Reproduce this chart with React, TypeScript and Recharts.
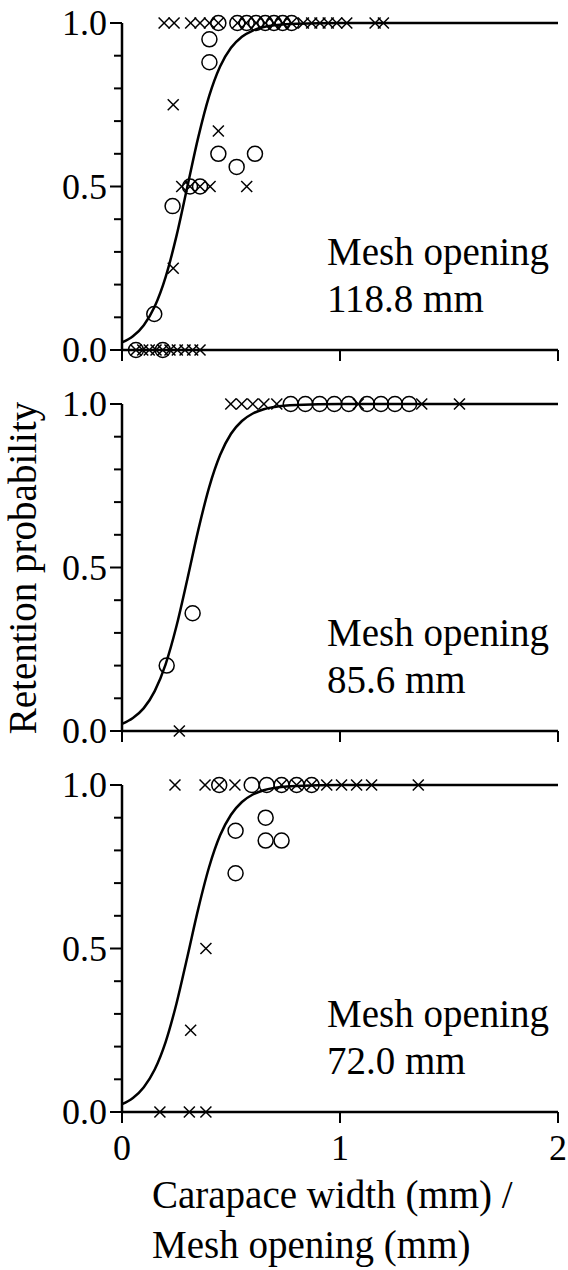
import { ComposedChart, Line, Scatter, XAxis, YAxis } from "recharts"

const FONT = '"Liberation Serif", "Times New Roman", serif'

// x: carapace width / mesh opening, y: retention probability
const xTicks = [0, 1, 2]
const yTicks = [0, 0.1, 0.2, 0.3, 0.4, 0.5, 0.6, 0.7, 0.8, 0.9, 1]

// fitted curves
const curveX = [0, 0.05, 0.1, 0.15, 0.2, 0.25, 0.3, 0.35, 0.4, 0.45, 0.5, 0.55, 0.6, 0.65, 0.7, 0.8, 1, 2]
const curve118 = [0.023, 0.042, 0.076, 0.133, 0.223, 0.349, 0.5, 0.651, 0.777, 0.867, 0.924, 0.958, 0.977, 0.988, 0.993, 0.998, 1, 1]
const curve85 = [0.022, 0.04, 0.07, 0.122, 0.204, 0.321, 0.465, 0.615, 0.746, 0.844, 0.909, 0.948, 0.971, 0.984, 0.991, 0.997, 1, 1]
const curve72 = [0.024, 0.043, 0.076, 0.13, 0.214, 0.332, 0.475, 0.622, 0.75, 0.846, 0.909, 0.948, 0.971, 0.984, 0.991, 0.997, 1, 1]

// 118.8 mm
const circ118X = [0.442, 0.529, 0.572, 0.615, 0.657, 0.697, 0.737, 0.778, 0.401, 0.401, 0.442, 0.526, 0.61, 0.312, 0.358, 0.232, 0.148, 0.064, 0.187]
const circ118Y = [1, 1, 1, 1, 1, 1, 1, 1, 0.95, 0.88, 0.6, 0.56, 0.6, 0.5, 0.5, 0.44, 0.11, 0, 0]
const cross118X = [
  0.193, 0.239, 0.315, 0.358, 0.401, 0.442, 0.53, 0.57, 0.615, 0.657, 0.697, 0.737, 0.778, 0.832, 0.87, 0.908, 0.946,
  0.985, 1.031, 1.161, 1.199, 0.235, 0.442, 0.572, 0.274, 0.312, 0.358, 0.404, 0.235, 0.064, 0.095, 0.125, 0.156,
  0.187, 0.22, 0.254, 0.289, 0.324, 0.358,
]
const cross118Y = [
  1, 1, 1, 1, 1, 1, 1, 1, 1, 1, 1, 1, 1, 1, 1, 1, 1, 1, 1, 1, 1, 0.75, 0.67, 0.5, 0.5, 0.5, 0.5, 0.5, 0.25, 0, 0, 0, 0,
  0, 0, 0, 0, 0, 0,
]

// 85.6 mm
const circ85X = [0.774, 0.841, 0.907, 0.974, 1.04, 1.124, 1.188, 1.252, 1.317, 0.205, 0.324]
const circ85Y = [1, 1, 1, 1, 1, 1, 1, 1, 1, 0.2, 0.36]
const cross85X = [0.499, 0.549, 0.6, 0.651, 0.71, 1.084, 1.375, 1.548, 0.263]
const cross85Y = [1, 1, 1, 1, 1, 1, 1, 1, 0]

// 72.0 mm
const circ72X = [0.446, 0.595, 0.664, 0.732, 0.801, 0.87, 0.521, 0.659, 0.659, 0.732, 0.521]
const circ72Y = [1, 1, 1, 1, 1, 1, 0.86, 0.9, 0.83, 0.83, 0.73]
const cross72X = [0.243, 0.381, 0.446, 0.518, 0.732, 0.801, 0.87, 0.939, 1.007, 1.076, 1.145, 1.359, 0.385, 0.315, 0.174, 0.309, 0.385]
const cross72Y = [1, 1, 1, 1, 1, 1, 1, 1, 1, 1, 1, 1, 0.5, 0.25, 0, 0, 0]

const zip = (xs: number[], ys: number[]) => xs.map((x, i) => ({ x, y: ys[i] }))

const CircleMark = (p: any) => (
  <circle cx={p.cx} cy={p.cy} r={7.5} fill="none" stroke="#000" strokeWidth={1.5} />
)

const CrossMark = (p: any) => (
  <g stroke="#000" strokeWidth={1.5}>
    <line x1={p.cx - 5.5} y1={p.cy - 5.5} x2={p.cx + 5.5} y2={p.cy + 5.5} />
    <line x1={p.cx - 5.5} y1={p.cy + 5.5} x2={p.cx + 5.5} y2={p.cy - 5.5} />
  </g>
)

const YTick = (p: any) => {
  const v = p.payload.value
  const major = Math.abs(v * 2 - Math.round(v * 2)) < 1e-6
  return (
    <g>
      <line x1={p.x - (major ? 12 : 8)} x2={p.x} y1={p.y} y2={p.y} stroke="#000" strokeWidth={2} />
      {major && (
        <text x={p.x - 15} y={p.y + 12} textAnchor="end" fontFamily={FONT} fontSize={36} fill="#000">
          {v.toFixed(1)}
        </text>
      )}
    </g>
  )
}

const makeXTick = (showLabel: boolean) => (p: any) => (
  <g>
    <line x1={p.x} x2={p.x} y1={p.y} y2={p.y + 11} stroke="#000" strokeWidth={2} />
    {showLabel && (
      <text x={p.x} y={p.y + 48} textAnchor="middle" fontFamily={FONT} fontSize={36} fill="#000">
        {p.payload.value}
      </text>
    )}
  </g>
)

function Panel({ top, curve, circles, crosses, showX }: any) {
  return (
    <div style={{ position: "absolute", left: 0, top: top - 20 }}>
      <ComposedChart width={568} height={407} margin={{ top: 20, right: 10, bottom: 10, left: 0 }}>
        <XAxis
          type="number"
          dataKey="x"
          domain={[0, 2]}
          ticks={xTicks}
          interval={0}
          height={50}
          axisLine={{ stroke: "#000", strokeWidth: 2.5 }}
          tickLine={false}
          tickSize={0}
          tickMargin={0}
          tick={makeXTick(showX)}
        />
        <YAxis
          type="number"
          dataKey="y"
          domain={[0, 1]}
          ticks={yTicks}
          interval={0}
          width={122}
          axisLine={{ stroke: "#000", strokeWidth: 2.5 }}
          tickLine={false}
          tickSize={0}
          tickMargin={0}
          tick={<YTick />}
        />
        <Line
          data={curve}
          dataKey="y"
          type="monotone"
          stroke="#000"
          strokeWidth={2.5}
          dot={false}
          isAnimationActive={false}
        />
        <Scatter data={circles} dataKey="y" shape={CircleMark} isAnimationActive={false} />
        <Scatter data={crosses} dataKey="y" shape={CrossMark} isAnimationActive={false} />
      </ComposedChart>
    </div>
  )
}

const panels = [
  { top: 23, curve: zip(curveX, curve118), circles: zip(circ118X, circ118Y), crosses: zip(cross118X, cross118Y), label: "118.8 mm" },
  { top: 404, curve: zip(curveX, curve85), circles: zip(circ85X, circ85Y), crosses: zip(cross85X, cross85Y), label: "85.6 mm" },
  { top: 785, curve: zip(curveX, curve72), circles: zip(circ72X, circ72Y), crosses: zip(cross72X, cross72Y), label: "72.0 mm" },
]

export default function App() {
  return (
    <div style={{ position: "absolute", left: 0, top: 0, width: 568, height: 1270, background: "#fff" }}>
      {panels.map((p, i) => (
        <Panel key={i} top={p.top} curve={p.curve} circles={p.circles} crosses={p.crosses} showX={i === 2} />
      ))}
      <svg width={568} height={1270} style={{ position: "absolute", left: 0, top: 0, pointerEvents: "none" }}>
        <g fontFamily={FONT} fontSize={39} fill="#000">
          {panels.map((p, i) => (
            <g key={i}>
              <text x={327} y={p.top + 242}>Mesh opening</text>
              <text x={327} y={p.top + 289}>{p.label}</text>
            </g>
          ))}
          <text x={36} y={568} textAnchor="middle" transform="rotate(-90 36 568)">
            Retention probability
          </text>
          <text x={152} y={1208}>Carapace width (mm) /</text>
          <text x={152} y={1258}>Mesh opening (mm)</text>
        </g>
      </svg>
    </div>
  )
}
